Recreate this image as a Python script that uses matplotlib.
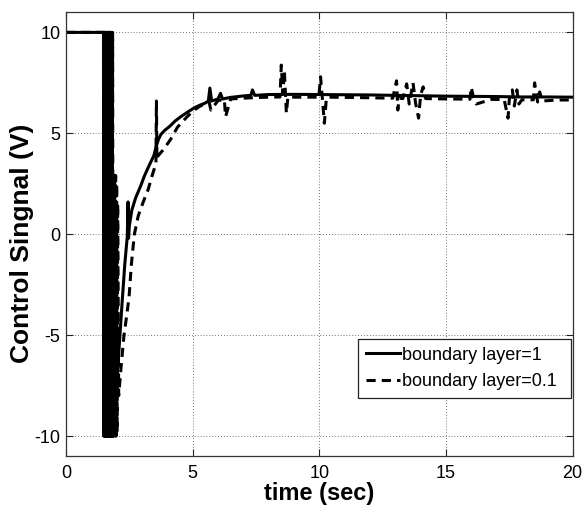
import matplotlib
matplotlib.use('Agg')
import matplotlib.pyplot as plt

plt.rcParams['font.family'] = ['Liberation Sans', 'DejaVu Sans']
plt.rcParams['axes.unicode_minus'] = False

# ---------------- data ----------------
# boundary layer = 1 (solid)
t_bl1_pre = [0.0, 1.48]
u_bl1_pre = [10, 10]
t_bl1_chat = [1.49, 1.50, 1.51, 1.52, 1.53, 1.54, 1.55, 1.56, 1.57, 1.58,
              1.59, 1.60, 1.61, 1.62, 1.63, 1.64, 1.65, 1.66, 1.67, 1.68,
              1.69, 1.70, 1.71, 1.72, 1.73, 1.74, 1.75, 1.76, 1.77, 1.78,
              1.79, 1.80, 1.81, 1.82, 1.83, 1.84, 1.85, 1.86, 1.87, 1.88]
u_bl1_chat = [-10, 10, -10, 10, -10, 10, -10, 10, -10, 10,
              -10, 10, -10, 10, -10, 10, -10, 10, -10, 10,
              -10, 10, -10, 10, -10, 10, -10, 10, -10, 8,
              -10, 4, -10, 0, -10, -4, -10, -7, -10, -9.8]
t_bl1_rise = [1.92, 1.96, 2.05, 2.13, 2.22, 2.32, 2.42, 2.45, 2.47, 2.50,
              2.60, 2.75, 2.95, 3.10, 3.28, 3.47, 3.55, 3.65, 3.75, 3.90,
              4.10, 4.30, 4.53, 4.80, 5.05, 5.30]
u_bl1_rise = [-9.6, -8.0, -6.5, -5.0, -3.3, -1.5, -0.1, 1.6, -0.2, 0.4,
              1.2, 1.8, 2.4, 2.9, 3.4, 3.9, 4.3, 4.7, 4.95, 5.15,
              5.35, 5.6, 5.82, 6.05, 6.25, 6.4]
t_bl1_ss = [5.50, 5.62, 5.68, 5.75, 6.00, 6.10, 6.18, 6.50, 7.00, 7.30,
            7.36, 7.45, 8.00, 9.00, 10.00, 11.00, 12.00, 13.00, 14.00, 15.00,
            16.00, 17.00, 18.00, 19.00, 20.00]
u_bl1_ss = [6.5, 6.6, 7.24, 6.6, 6.7, 6.98, 6.7, 6.78, 6.85, 6.88,
            7.15, 6.88, 6.92, 6.93, 6.92, 6.91, 6.9, 6.88, 6.86, 6.84,
            6.83, 6.82, 6.8, 6.8, 6.79]

# boundary layer = 0.1 (dashed)
t_bl01_pre = [0.0, 1.49]
u_bl01_pre = [10, 10]
t_bl01_chat = [1.50, 1.52, 1.54, 1.56, 1.58, 1.60, 1.62, 1.64, 1.66, 1.68,
               1.70, 1.72, 1.74, 1.76, 1.78, 1.80, 1.82, 1.84, 1.86, 1.88,
               1.90, 1.92, 1.94, 1.96, 1.98, 2.00, 2.02, 2.04]
u_bl01_chat = [-10, 10, -10, 10, -10, 10, -10, 10, -10, 10,
               -10, 10, -10, 10, -10, 10, -10, 10, -10, 3.0,
               -10, 3.0, -10, 2.9, -10, 2.5, -9.8, 1.5]
t_bl01_rise = [2.08, 2.18, 2.29, 2.40, 2.49, 2.58, 2.70, 2.85, 3.05, 3.24,
               3.40, 3.55, 3.57, 3.59, 3.62, 3.85, 4.13, 4.40, 4.73, 5.00,
               5.30]
u_bl01_rise = [-8.0, -6.5, -5.0, -4.0, -3.1, -1.5, 0.0, 0.9, 1.6, 2.2,
               2.9, 3.5, 6.6, 3.7, 3.86, 4.2, 4.7, 5.3, 5.75, 6.1,
               6.35]
t_bl01_ss = [5.55, 5.65, 5.72, 6.00, 6.25, 6.30, 6.50, 7.00, 7.50, 8.00,
             8.45, 8.50, 8.56, 8.62, 8.70, 8.76, 9.00, 9.50, 9.98, 10.05,
             10.12, 10.20, 10.28, 10.40, 11.00, 12.00, 12.90, 13.05, 13.10, 13.15,
             13.30, 13.45, 13.55, 13.70, 13.80, 13.92, 14.00, 14.10, 14.20, 14.60,
             15.20, 15.95, 16.00, 16.10, 16.20, 16.80, 17.30, 17.45, 17.50, 17.62,
             17.70, 17.80, 17.88, 18.00, 18.45, 18.50, 18.62, 18.70, 18.80, 19.40,
             20.00]
u_bl01_ss = [6.5, 6.55, 6.15, 6.62, 6.68, 5.82, 6.7, 6.74, 6.77, 6.79,
             6.8, 8.38, 6.95, 8.1, 6.0, 6.8, 6.79, 6.79, 6.79, 7.8,
             6.75, 5.5, 6.75, 6.79, 6.78, 6.76, 6.74, 7.6, 6.15, 6.74,
             6.72, 7.45, 6.45, 7.5, 6.5, 5.75, 6.9, 7.3, 6.72, 6.71,
             6.7, 6.69, 7.28, 6.69, 6.45, 6.68, 6.67, 5.75, 6.67, 7.15,
             6.35, 7.15, 6.45, 6.66, 6.66, 7.5, 6.55, 7.05, 6.6, 6.65,
             6.65]

x_ticks = [0, 5, 10, 15, 20]
y_ticks = [-10, -5, 0, 5, 10]
x_label = 'time (sec)'
y_label = 'Control Singnal (V)'
labels = ['boundary layer=1', 'boundary layer=0.1']

t_bl1 = t_bl1_pre + t_bl1_chat + t_bl1_rise + t_bl1_ss
u_bl1 = u_bl1_pre + u_bl1_chat + u_bl1_rise + u_bl1_ss
t_bl01 = t_bl01_pre + t_bl01_chat + t_bl01_rise + t_bl01_ss
u_bl01 = u_bl01_pre + u_bl01_chat + u_bl01_rise + u_bl01_ss

# ---------------- figure ----------------
fig = plt.figure(figsize=(5.84, 5.12), dpi=100)
ax = fig.add_axes([66 / 584, (512 - 456.2) / 512, (572.6 - 66) / 584, (456.2 - 12.2) / 512])

ax.plot(t_bl1, u_bl1, color='k', lw=2.2, label=labels[0])
ax.plot(t_bl01, u_bl01, color='k', lw=2.2, dashes=(3.0, 2.0), label=labels[1])

ax.set_xlim(0, 20)
ax.set_ylim(-11, 11)
ax.set_xticks(x_ticks)
ax.set_yticks(y_ticks)
ax.grid(True, color='#444444', linestyle=(0, (1, 2.5)), linewidth=0.6)
ax.tick_params(direction='in', length=5, width=0.8, top=True, right=True,
               labelsize=13, colors='#222222', labelcolor='black')
ax.tick_params(axis='x', pad=6)
ax.tick_params(axis='y', pad=4)
for s in ax.spines.values():
    s.set_color('#333333')
    s.set_linewidth(0.9)

ax.set_xlabel(x_label, fontsize=17, fontweight='bold')
ax.xaxis.set_label_coords(0.5, -0.058)
ax.xaxis.label.set_va('top')
ax.set_ylabel(y_label, fontsize=19, fontweight='bold')
ax.yaxis.set_label_coords(-0.087, 0.48)
ax.yaxis.label.set_va('center')

leg = ax.legend(loc='lower left', bbox_to_anchor=(0.5764, 0.131, 0.4214, 0.135),
                mode='expand', fontsize=13,
                frameon=True, fancybox=False, edgecolor='#222222', framealpha=1,
                handlelength=1.9, handletextpad=0.1, borderpad=0.42,
                labelspacing=0.55, borderaxespad=0)
leg.get_frame().set_linewidth(0.9)

fig.savefig('out.png', dpi=100)
